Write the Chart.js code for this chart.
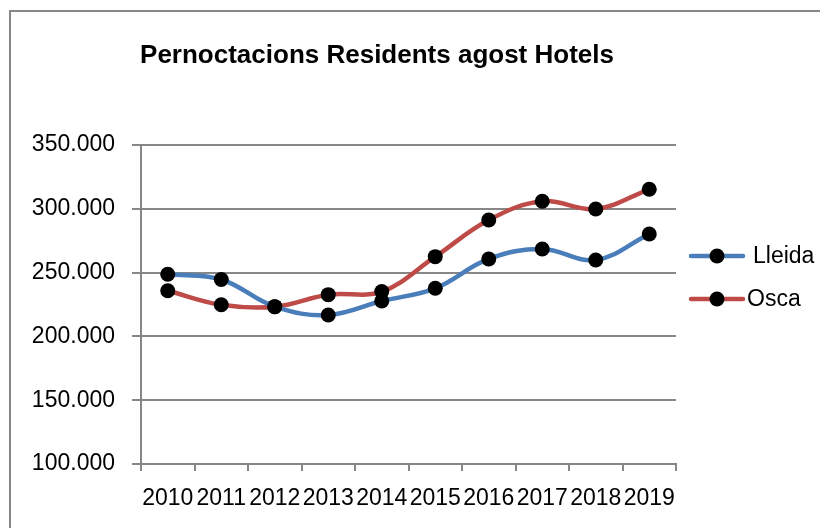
<!DOCTYPE html>
<html>
<head>
<meta charset="utf-8">
<script src="https://cdn.jsdelivr.net/npm/chart.js@4.4.1/dist/chart.umd.min.js"></script>
<style>
  html, body { margin: 0; padding: 0; background: #fff; }
  #wrap { width: 820px; height: 528px; }
</style>
</head>
<body>
<div id="wrap"><canvas id="chart" width="820" height="528"></canvas></div>
<script>
const chartTitle = 'Pernoctacions Residents agost Hotels';
const years = ['2010', '2011', '2012', '2013', '2014', '2015', '2016', '2017', '2018', '2019'];
const lleida = [248700, 244600, 223300, 216800, 227700, 237700, 260700, 268500, 259900, 280300];
const osca = [235800, 224800, 223300, 232700, 235100, 262500, 291200, 305900, 299800, 315300];
const seriesNames = ['Lleida', 'Osca'];
const seriesColors = ['#4a7ebb', '#be4b48'];
const yMin = 100000;
const yMax = 350000;
const yStep = 50000;

const FONT = "'Liberation Sans', Arial, sans-serif";
const GRID = '#878787';

// thousands separator is a dot: 350000 -> 350.000
function fmt(v) {
  return String(v).replace(/\B(?=(\d{3})+(?!\d))/g, '.');
}

// white page, frame, title and legend drawn by hand
const decor = {
  id: 'decor',
  beforeDraw(chart) {
    const c = chart.ctx;
    c.save();
    c.fillStyle = '#fff';
    c.fillRect(0, 0, chart.width, chart.height);
    c.strokeStyle = GRID;
    c.lineWidth = 2;
    c.beginPath();
    c.moveTo(10, chart.height + 5);
    c.lineTo(10, 11);
    c.lineTo(chart.width + 5, 11);
    c.stroke();
    c.restore();
  },
  afterDraw(chart) {
    const c = chart.ctx;
    c.save();
    c.fillStyle = '#000';
    c.font = 'bold 26px ' + FONT;
    c.textAlign = 'center';
    c.textBaseline = 'middle';
    c.fillText(chartTitle, 377, 56);

    const rows = [256, 299];
    const textX = [753, 747];
    c.font = '23px ' + FONT;
    c.textAlign = 'left';
    seriesNames.forEach((name, i) => {
      const y = rows[i];
      c.strokeStyle = seriesColors[i];
      c.lineWidth = 4.5;
      c.lineCap = 'round';
      c.beginPath();
      c.moveTo(691, y);
      c.lineTo(743, y);
      c.stroke();
      c.fillStyle = '#000';
      c.beginPath();
      c.arc(717, y, 7.5, 0, Math.PI * 2);
      c.fill();
      c.fillText(name, textX[i], y + 1);
    });
    c.restore();
  }
};

function makeSet(label, data, color) {
  return {
    label: label,
    data: data,
    borderColor: color,
    backgroundColor: '#000',
    borderWidth: 4.5,
    tension: 0.38,
    pointRadius: 7.5,
    pointBorderWidth: 0,
    pointBackgroundColor: '#000',
    pointBorderColor: '#000',
    fill: false,
    clip: false
  };
}

new Chart(document.getElementById('chart'), {
  type: 'line',
  data: {
    labels: years,
    datasets: [
      makeSet(seriesNames[0], lleida, seriesColors[0]),
      makeSet(seriesNames[1], osca, seriesColors[1])
    ]
  },
  options: {
    responsive: false,
    animation: false,
    layout: { padding: { left: 0, top: 145, right: 144, bottom: 0 } },
    scales: {
      x: {
        offset: true,
        afterFit: s => { s.height = 64; },
        grid: { offset: true, drawOnChartArea: false, drawTicks: true, tickLength: 7, color: GRID, lineWidth: 2 },
        border: { display: true, color: GRID, width: 2 },
        ticks: { color: '#000', font: { family: FONT, size: 23 }, padding: 14, maxRotation: 0, autoSkip: false }
      },
      y: {
        min: yMin,
        max: yMax,
        afterFit: s => { s.width = 141; },
        grid: { color: GRID, lineWidth: 2, drawTicks: true, tickLength: 9 },
        border: { display: true, color: GRID, width: 2 },
        ticks: {
          stepSize: yStep,
          color: '#000',
          font: { family: FONT, size: 23 },
          padding: 17,
          callback: v => fmt(v)
        }
      }
    },
    plugins: {
      legend: { display: false },
      title: { display: false },
      tooltip: { enabled: false }
    }
  },
  plugins: [decor]
});
</script>
</body>
</html>
